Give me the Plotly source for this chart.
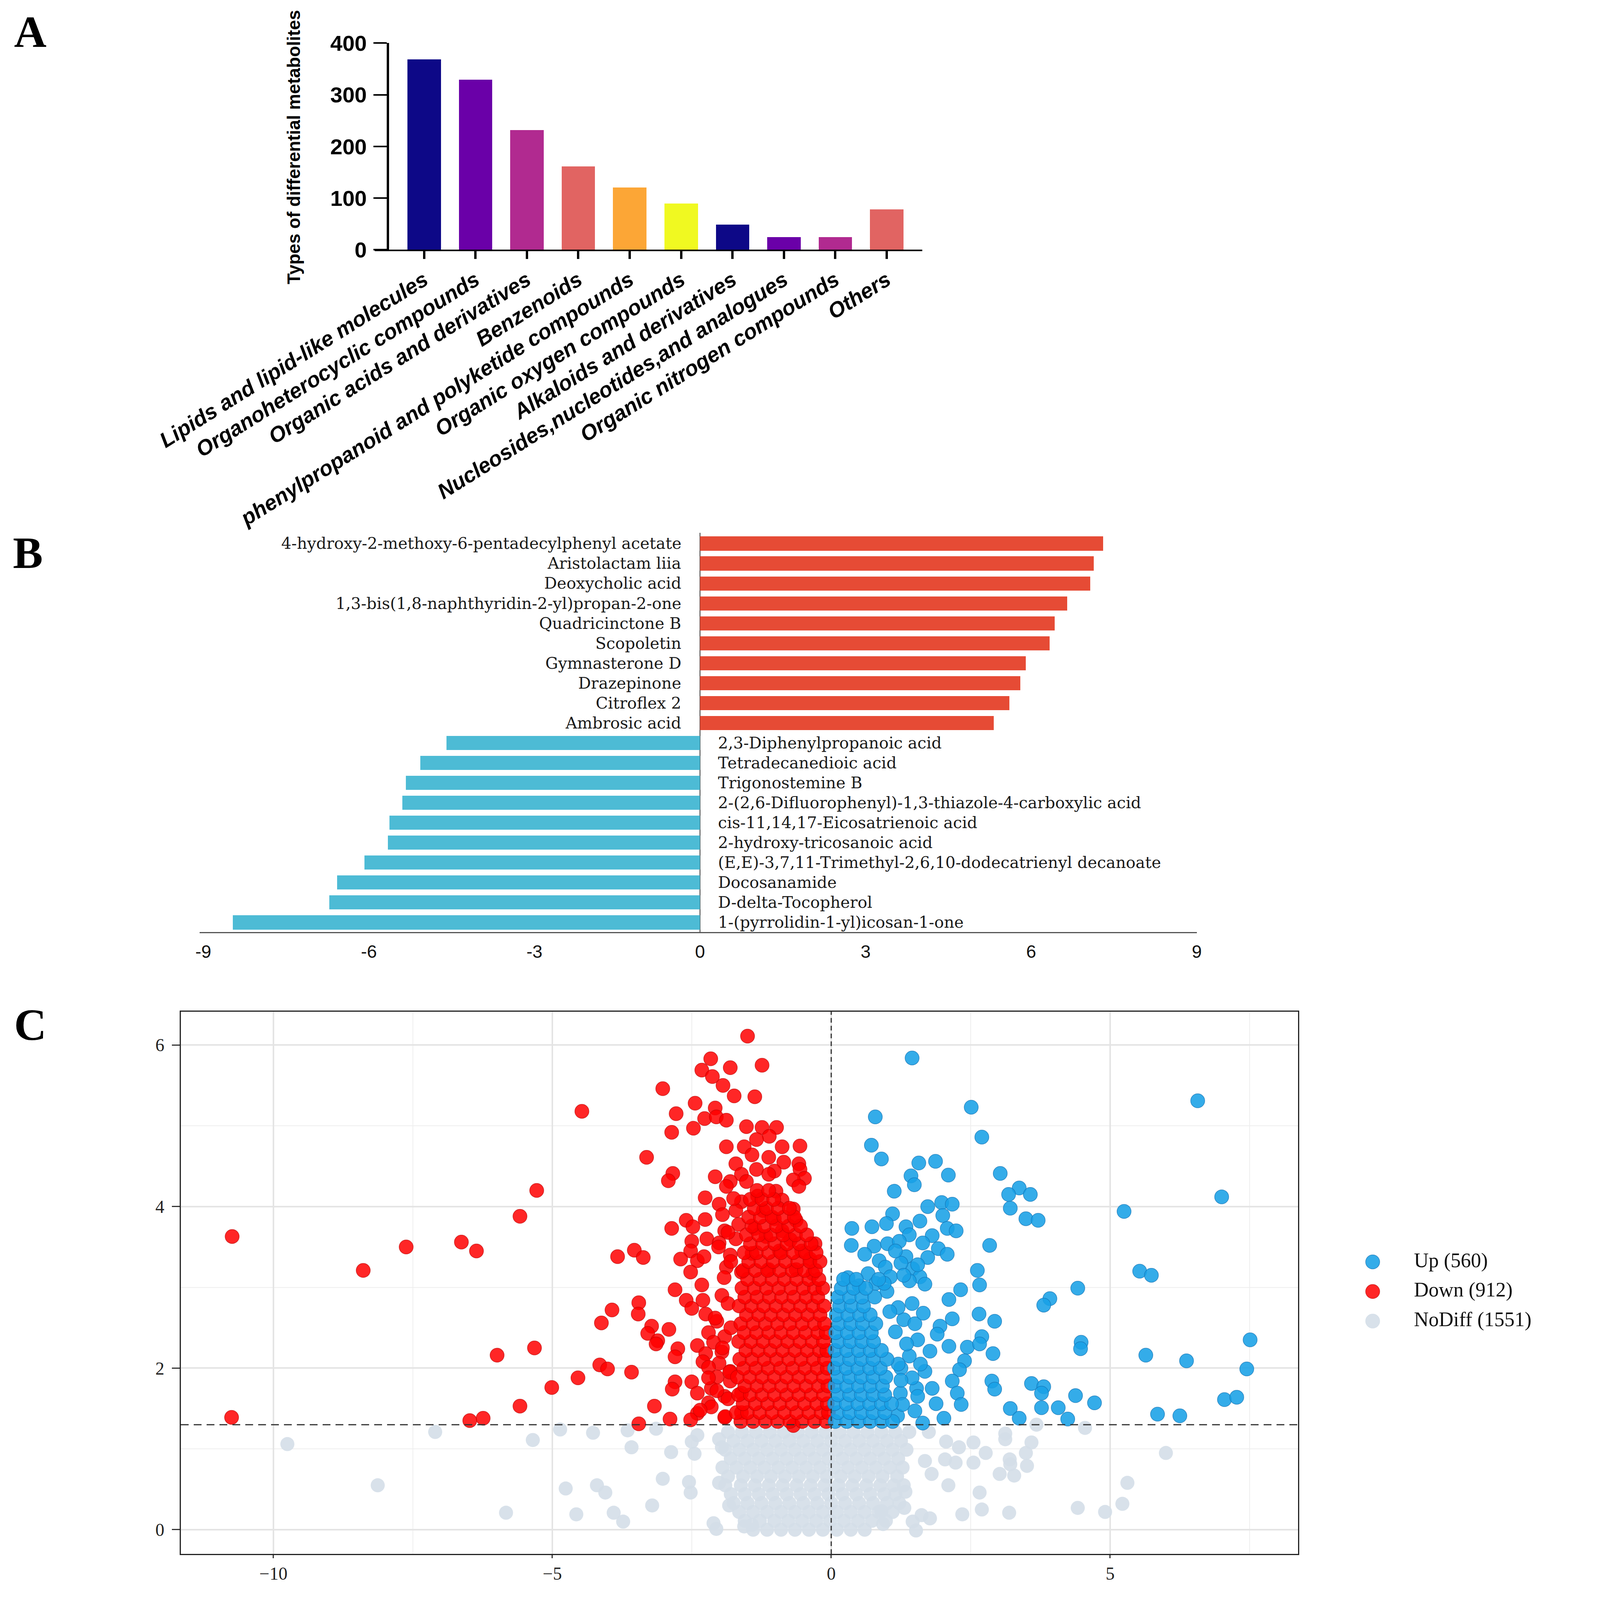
import plotly.graph_objects as go

# design frame of the reference figure (positions below are given in this frame)
W, H = 4278, 7316


def px(x):
    return x / W


def py(y):
    return 1 - y / H


# ---------------- panel A: classes of differential metabolites
class_names = ["Lipids and lipid-like molecules", "Organoheterocyclic compounds",
               "Organic acids and derivatives", "Benzenoids",
               "phenylpropanoid and polyketide compounds", "Organic oxygen compounds",
               "Alkaloids and derivatives", "Nucleosides,nucleotides,and analogues",
               "Organic nitrogen compounds", "Others"]
class_counts = [368, 329, 231, 161, 120, 89, 48, 24, 24, 78]
class_colors = ["#0D0887", "#6A00A8", "#B12A90", "#E16462", "#FCA636", "#F0F921",
                "#0D0887", "#6A00A8", "#B12A90", "#E16462"]

# ---------------- panel B: top up / down metabolites (log2FC)
up_names = ["4-hydroxy-2-methoxy-6-pentadecylphenyl acetate", "Aristolactam liia",
            "Deoxycholic acid", "1,3-bis(1,8-naphthyridin-2-yl)propan-2-one",
            "Quadricinctone B", "Scopoletin", "Gymnasterone D", "Drazepinone",
            "Citroflex 2", "Ambrosic acid"]
up_fc = [7.30, 7.13, 7.07, 6.65, 6.42, 6.33, 5.90, 5.80, 5.60, 5.32]
down_names = ["2,3-Diphenylpropanoic acid", "Tetradecanedioic acid", "Trigonostemine B",
              "2-(2,6-Difluorophenyl)-1,3-thiazole-4-carboxylic acid",
              "cis-11,14,17-Eicosatrienoic acid", "2-hydroxy-tricosanoic acid",
              "(E,E)-3,7,11-Trimethyl-2,6,10-dodecatrienyl decanoate", "Docosanamide",
              "D-delta-Tocopherol", "1-(pyrrolidin-1-yl)icosan-1-one"]
down_fc = [-4.60, -5.07, -5.33, -5.40, -5.63, -5.66, -6.08, -6.58, -6.72, -8.47]
b_ticks = [-9, -6, -3, 0, 3, 6, 9]

# ---------------- panel C: volcano plot (log2FC, -log10 p)
up_pts = [
    (1.45, 5.84), (6.57, 5.31), (2.51, 5.23), (0.79, 5.11), (2.70, 4.86), (0.72, 4.76),
    (0.90, 4.59), (1.57, 4.54), (1.87, 4.56), (1.43, 4.38), (2.10, 4.39), (1.49, 4.27),
    (3.03, 4.41), (1.13, 4.19), (3.37, 4.23), (3.18, 4.15), (3.57, 4.15), (7.00, 4.12),
    (1.73, 4.00), (1.98, 4.05), (2.17, 4.03), (3.21, 3.98), (5.25, 3.94), (1.10, 3.91),
    (2.00, 3.89), (3.49, 3.85), (3.71, 3.83), (0.37, 3.73), (0.73, 3.75), (0.99, 3.79),
    (1.59, 3.82), (1.34, 3.75), (2.08, 3.73), (2.24, 3.70), (1.40, 3.65), (1.81, 3.64),
    (2.84, 3.52), (0.36, 3.52), (0.77, 3.51), (1.01, 3.54), (1.22, 3.57), (1.64, 3.55),
    (1.92, 3.48), (0.60, 3.41), (0.86, 3.33), (1.34, 3.38), (1.73, 3.37), (2.08, 3.41),
    (0.97, 3.25), (1.46, 3.23), (2.62, 3.21), (5.53, 3.20), (5.74, 3.15), (0.30, 3.12),
    (0.66, 3.17), (1.06, 3.13), (1.59, 3.13), (1.68, 3.04), (2.32, 2.97), (2.66, 3.03),
    (4.42, 2.99), (3.92, 2.86), (1.25, 3.30), (1.40, 3.08), (1.15, 3.45), (1.55, 3.28),
    (0.50, 3.02), (0.80, 3.05), (1.30, 3.15),
    (3.81, 2.78), (2.11, 2.85), (2.65, 2.67), (2.93, 2.58), (2.17, 2.61), (1.95, 2.52),
    (2.70, 2.39), (1.90, 2.42), (7.51, 2.35), (4.48, 2.32), (4.47, 2.24), (2.44, 2.26),
    (2.66, 2.30), (2.11, 2.27), (1.77, 2.21), (2.90, 2.18), (5.64, 2.16), (6.37, 2.09),
    (2.39, 2.09), (7.45, 1.99), (2.30, 1.98), (1.68, 1.96), (2.17, 1.84), (2.88, 1.84),
    (3.59, 1.81), (3.81, 1.77), (2.93, 1.74), (3.77, 1.69), (1.81, 1.75), (2.26, 1.69),
    (1.53, 1.75), (1.24, 1.69), (4.38, 1.66), (4.72, 1.57), (7.05, 1.61), (7.27, 1.64),
    (1.88, 1.56), (2.33, 1.55), (1.55, 1.65), (3.21, 1.50), (3.77, 1.51), (4.07, 1.51),
    (1.50, 1.47), (5.85, 1.43), (6.25, 1.41), (2.02, 1.38), (3.37, 1.38), (4.24, 1.37),
    (1.64, 1.32), (1.19, 1.41), (1.28, 1.55), (1.45, 2.80), (1.30, 2.60), (1.55, 2.35),
    (1.40, 2.15), (1.25, 2.00), (1.60, 2.05), (1.45, 1.88), (1.35, 2.30), (1.50, 2.55),
    (1.20, 2.75), (1.65, 2.68), (1.20, 2.05), (1.15, 2.45), (1.25, 1.85), (1.05, 2.70),
    (1.00, 2.95), (0.95, 3.05),
]
up_dense = {
    1.34: [0.07, 0.28, 0.49, 0.70, 0.91, 1.10],
    1.45: [0.12, 0.33, 0.54, 0.75, 0.96],
    1.56: [0.06, 0.27, 0.48, 0.69, 0.90, 1.08],
    1.67: [0.12, 0.33, 0.54, 0.75, 0.96],
    1.78: [0.07, 0.28, 0.49, 0.70, 0.92],
    1.89: [0.12, 0.33, 0.54, 0.75, 0.98],
    2.00: [0.06, 0.27, 0.48, 0.69, 0.88],
    2.11: [0.12, 0.33, 0.54, 0.75, 1.00],
    2.22: [0.07, 0.28, 0.49, 0.70, 0.90],
    2.33: [0.13, 0.34, 0.55, 0.76],
    2.44: [0.08, 0.29, 0.50, 0.72],
    2.55: [0.14, 0.35, 0.56, 0.80],
    2.66: [0.09, 0.30, 0.51, 0.70],
    2.77: [0.15, 0.36, 0.58],
    2.88: [0.12, 0.33, 0.55, 0.78],
    2.99: [0.18, 0.40, 0.62],
    3.10: [0.22, 0.45, 0.85],
}

down_pts = [
    (-1.50, 6.11), (-2.16, 5.83), (-1.24, 5.75), (-2.32, 5.69), (-1.81, 5.72), (-2.13, 5.61),
    (-1.94, 5.50), (-3.02, 5.46), (-1.74, 5.37), (-1.37, 5.36), (-2.44, 5.28), (-4.47, 5.18),
    (-2.08, 5.22), (-2.78, 5.15), (-2.27, 5.09), (-2.06, 5.11), (-1.88, 5.07), (-1.52, 4.99),
    (-1.24, 4.98), (-0.98, 4.98), (-2.86, 4.92), (-2.47, 4.97), (-1.11, 4.87), (-1.34, 4.83),
    (-1.88, 4.74), (-1.56, 4.74), (-0.88, 4.74), (-0.56, 4.75), (-3.31, 4.61), (-1.42, 4.64),
    (-1.12, 4.61), (-1.71, 4.53), (-0.85, 4.55), (-0.58, 4.53), (-1.34, 4.46), (-1.02, 4.44),
    (-0.56, 4.46), (-2.84, 4.41), (-2.08, 4.37), (-1.61, 4.40), (-1.12, 4.40), (-2.92, 4.32),
    (-0.48, 4.35), (-0.68, 4.33), (-1.81, 4.31), (-1.52, 4.31), (-0.58, 4.25), (-5.28, 4.20),
    (-1.88, 4.25), (-0.99, 4.19), (-2.26, 4.11), (-2.01, 4.03), (-1.61, 4.06), (-1.32, 4.13),
    (-0.88, 4.08), (-1.71, 3.95), (-1.22, 3.95), (-0.68, 3.97), (-5.58, 3.88), (-2.60, 3.83),
    (-2.26, 3.84), (-1.02, 3.85), (-0.63, 3.83), (-2.86, 3.73), (-2.48, 3.75), (-1.66, 3.78),
    (-1.91, 3.70), (-1.37, 3.73), (-0.88, 3.70), (-10.74, 3.63), (-2.50, 3.57), (-2.23, 3.60),
    (-2.01, 3.55), (-1.71, 3.60), (-1.17, 3.63), (-0.73, 3.59), (-0.29, 3.54), (-6.63, 3.56),
    (-7.62, 3.50), (-6.36, 3.45), (-3.53, 3.46), (-3.83, 3.38), (-3.37, 3.37), (-2.52, 3.45),
    (-2.70, 3.35), (-2.40, 3.33), (-2.28, 3.38), (-1.81, 3.40), (-1.42, 3.42), (-0.93, 3.45),
    (-0.53, 3.45), (-0.38, 3.35), (-8.39, 3.21), (-2.52, 3.19), (-1.88, 3.25), (-1.61, 3.19),
    (-1.12, 3.22), (-0.63, 3.22), (-0.33, 3.17),
    (-2.32, 3.03), (-2.80, 2.97), (-1.96, 2.90), (-3.45, 2.81), (-2.60, 2.84), (-2.30, 2.84),
    (-3.93, 2.72), (-3.46, 2.67), (-2.50, 2.74), (-2.25, 2.67), (-2.05, 2.58), (-4.12, 2.56),
    (-3.22, 2.52), (-2.91, 2.48), (-3.29, 2.43), (-2.20, 2.44), (-1.91, 2.39), (-3.11, 2.34),
    (-3.14, 2.30), (-2.40, 2.28), (-2.11, 2.32), (-5.32, 2.25), (-2.75, 2.24), (-5.99, 2.16),
    (-2.80, 2.14), (-2.25, 2.18), (-1.96, 2.20), (-2.30, 2.08), (-2.01, 2.06), (-4.15, 2.04),
    (-4.01, 1.99), (-3.58, 1.95), (-2.20, 2.01), (-1.81, 1.96), (-4.54, 1.88), (-2.80, 1.83),
    (-2.50, 1.83), (-2.05, 1.89), (-1.81, 1.84), (-5.01, 1.76), (-2.85, 1.74), (-2.40, 1.69),
    (-2.15, 1.75), (-1.91, 1.65), (-2.20, 1.57), (-1.61, 1.69), (-5.58, 1.53), (-3.17, 1.53),
    (-2.40, 1.44), (-10.75, 1.39), (-6.24, 1.38), (-6.48, 1.35), (-2.89, 1.37), (-2.52, 1.36),
    (-1.91, 1.39), (-1.61, 1.45), (-3.45, 1.31), (-0.68, 1.29),
    (-1.90, 1.40), (-1.85, 1.62), (-2.05, 1.72), (-1.82, 1.95), (-1.95, 2.25), (-1.80, 2.50),
    (-2.08, 2.62), (-1.85, 2.80), (-1.92, 3.12), (-1.80, 3.32), (-2.02, 3.50), (-1.85, 3.68),
    (-1.95, 3.90), (-1.75, 4.10), (-2.15, 1.52), (-2.35, 1.48), (-2.20, 1.88),
]
down_dense = {
    1.34: [-1.62, -1.40, -1.18, -0.96, -0.74, -0.52, -0.30, -0.09],
    1.45: [-1.70, -1.50, -1.28, -1.06, -0.84, -0.62, -0.40, -0.18, -0.05],
    1.56: [-1.58, -1.36, -1.14, -0.92, -0.70, -0.48, -0.26, -0.07],
    1.67: [-1.66, -1.45, -1.24, -1.02, -0.80, -0.58, -0.36, -0.14],
    1.78: [-1.55, -1.33, -1.11, -0.89, -0.67, -0.45, -0.23, -0.06],
    1.89: [-1.68, -1.46, -1.24, -1.02, -0.80, -0.58, -0.36, -0.14],
    2.00: [-1.57, -1.35, -1.13, -0.91, -0.69, -0.47, -0.25, -0.07],
    2.11: [-1.64, -1.42, -1.20, -0.98, -0.76, -0.54, -0.32, -0.12],
    2.22: [-1.53, -1.31, -1.09, -0.87, -0.65, -0.43, -0.21, -0.08],
    2.33: [-1.66, -1.44, -1.22, -1.00, -0.78, -0.56, -0.34, -0.14],
    2.44: [-1.56, -1.34, -1.12, -0.90, -0.68, -0.46, -0.24, -0.09],
    2.55: [-1.62, -1.40, -1.18, -0.96, -0.74, -0.52, -0.30, -0.12],
    2.66: [-1.52, -1.30, -1.08, -0.86, -0.64, -0.42, -0.20],
    2.77: [-1.65, -1.43, -1.21, -0.99, -0.77, -0.55, -0.33, -0.13],
    2.88: [-1.55, -1.33, -1.11, -0.89, -0.67, -0.45, -0.24],
    2.99: [-1.60, -1.38, -1.16, -0.94, -0.72, -0.50, -0.30, -0.15],
    3.10: [-1.50, -1.28, -1.06, -0.84, -0.62, -0.40, -0.22],
    3.21: [-1.58, -1.36, -1.14, -0.92, -0.70, -0.48, -0.28],
    3.32: [-1.48, -1.26, -1.04, -0.82, -0.60, -0.38, -0.20],
    3.43: [-1.56, -1.34, -1.12, -0.90, -0.68, -0.46, -0.27],
    3.54: [-1.45, -1.23, -1.01, -0.79, -0.57, -0.36],
    3.65: [-1.52, -1.30, -1.08, -0.86, -0.64, -0.44],
    3.76: [-1.42, -1.20, -0.98, -0.76, -0.55],
    3.87: [-1.48, -1.27, -1.06, -0.85, -0.66],
    3.98: [-1.38, -1.16, -0.95, -0.75],
    4.09: [-1.45, -1.24, -1.03],
    4.20: [-1.33, -1.12],
}

nodiff_pts = [
    (-7.10, 1.21), (-9.75, 1.06), (-4.86, 1.24), (-4.27, 1.20), (-3.65, 1.23), (-3.14, 1.25),
    (-5.35, 1.11), (-3.58, 1.02), (-2.87, 0.96), (-2.45, 0.94), (-2.50, 1.09), (-2.40, 1.17),
    (-2.01, 1.12), (-1.96, 1.02), (-3.02, 0.63), (-2.55, 0.59), (-8.13, 0.55), (-4.76, 0.51),
    (-4.20, 0.55), (-4.05, 0.46), (-2.52, 0.46), (-2.01, 0.58), (-3.21, 0.30), (-1.83, 0.30),
    (-5.83, 0.21), (-4.57, 0.19), (-3.90, 0.21), (-3.73, 0.10), (-2.11, 0.08), (-2.06, 0.01),
    (-1.56, 0.04), (-1.42, 0.06),
    (1.75, 1.21), (3.12, 1.19), (3.12, 1.12), (3.59, 1.08), (2.55, 1.08), (2.06, 1.09),
    (2.29, 1.02), (2.77, 0.95), (3.49, 0.95), (6.00, 0.95), (1.68, 0.85), (2.04, 0.87),
    (2.23, 0.83), (2.55, 0.83), (3.20, 0.87), (3.21, 0.81), (3.51, 0.79), (1.80, 0.69),
    (3.02, 0.69), (3.28, 0.67), (5.31, 0.58), (2.10, 0.55), (2.66, 0.46), (1.33, 0.47),
    (5.22, 0.32), (4.42, 0.27), (4.91, 0.22), (2.70, 0.25), (3.19, 0.21), (2.35, 0.19),
    (1.31, 0.27), (1.62, 0.18), (1.77, 0.14), (1.46, 0.10), (1.52, -0.01), (0.93, 0.07),
    (0.90, 0.23), (3.68, 1.30), (4.55, 1.26),
]
nodiff_dense = {
    0.00: [-1.40, -1.15, -0.90, -0.65, -0.40, -0.15, 0.10, 0.35, 0.60],
    0.11: [-1.55, -1.28, -1.02, -0.77, -0.52, -0.27, -0.02, 0.23, 0.48, 0.73, 0.98],
    0.22: [-1.65, -1.40, -1.15, -0.90, -0.65, -0.40, -0.15, 0.10, 0.35, 0.60, 0.85, 1.10],
    0.33: [-1.75, -1.50, -1.25, -1.00, -0.75, -0.50, -0.25, 0.00, 0.25, 0.50, 0.75, 1.00, 1.22],
    0.44: [-1.80, -1.55, -1.30, -1.05, -0.80, -0.55, -0.30, -0.05, 0.20, 0.45, 0.70, 0.95, 1.15],
    0.55: [-1.90, -1.62, -1.37, -1.12, -0.87, -0.62, -0.37, -0.12, 0.13, 0.38, 0.63, 0.88, 1.12, 1.30],
    0.66: [-1.85, -1.58, -1.33, -1.08, -0.83, -0.58, -0.33, -0.08, 0.17, 0.42, 0.67, 0.92, 1.18],
    0.77: [-1.95, -1.70, -1.45, -1.20, -0.95, -0.70, -0.45, -0.20, 0.05, 0.30, 0.55, 0.80, 1.05, 1.28],
    0.88: [-1.80, -1.55, -1.30, -1.05, -0.80, -0.55, -0.30, -0.05, 0.20, 0.45, 0.70, 0.95, 1.20],
    0.99: [-1.90, -1.65, -1.40, -1.15, -0.90, -0.65, -0.40, -0.15, 0.10, 0.35, 0.60, 0.85, 1.10, 1.35],
    1.10: [-1.75, -1.50, -1.25, -1.00, -0.75, -0.50, -0.25, 0.00, 0.25, 0.50, 0.75, 1.00, 1.25],
    1.21: [-1.85, -1.60, -1.35, -1.10, -0.85, -0.60, -0.35, -0.10, 0.15, 0.40, 0.65, 0.90, 1.15, 1.40],
}

legend_labels = ["Up (560)", "Down (912)", "NoDiff (1551)"]
fc_cut = 0
p_cut = 1.3

UP_BAR, DOWN_BAR = "#E64B35", "#4DBBD5"
UP_FILL, UP_EDGE = "rgba(24,160,230,0.88)", "rgba(20,115,180,0.75)"
DOWN_FILL, DOWN_EDGE = "rgba(255,0,0,0.85)", "rgba(190,0,0,0.7)"
NO_FILL = "rgba(212,222,232,0.9)"
SERIF = "Liberation Serif"
SANS = "Liberation Sans"
DOT = 36


def unpack(points, dense):
    xs = [p[0] for p in points]
    ys = [p[1] for p in points]
    for y, row in dense.items():
        xs += row
        ys += [y] * len(row)
    return xs, ys


fig = go.Figure()

# ---- A
fig.add_trace(go.Bar(x=class_names, y=class_counts, width=0.65,
                     marker=dict(color=class_colors, line=dict(width=0)),
                     xaxis="x", yaxis="y", showlegend=False))

# ---- B
b_names = up_names + down_names
b_vals = up_fc + down_fc
b_pos = list(range(len(b_names)))
b_cols = [UP_BAR] * len(up_fc) + [DOWN_BAR] * len(down_fc)
fig.add_trace(go.Bar(x=b_vals, y=b_pos, orientation="h", width=0.71,
                     marker=dict(color=b_cols, line=dict(width=0)),
                     xaxis="x2", yaxis="y2", showlegend=False))
for name, val, pos in zip(b_names, b_vals, b_pos):
    fig.add_annotation(x=0, y=pos, xref="x2", yref="y2", text=name, showarrow=False,
                       xanchor="right" if val > 0 else "left", yanchor="middle",
                       xshift=-46 if val > 0 else 44,
                       font=dict(family="DejaVu Serif", size=41, color="#1a1a1a"))

# ---- C
nx, ny = unpack(nodiff_pts, nodiff_dense)
dx, dy = unpack(down_pts, down_dense)
ux, uy = unpack(up_pts, up_dense)
fig.add_trace(go.Scatter(x=nx, y=ny, mode="markers", xaxis="x3", yaxis="y3", showlegend=False,
                         marker=dict(size=DOT, color=NO_FILL, line=dict(width=0))))
fig.add_trace(go.Scatter(x=dx, y=dy, mode="markers", xaxis="x3", yaxis="y3", showlegend=False,
                         marker=dict(size=DOT, color=DOWN_FILL, line=dict(width=1.5, color=DOWN_EDGE))))
fig.add_trace(go.Scatter(x=ux, y=uy, mode="markers", xaxis="x3", yaxis="y3", showlegend=False,
                         marker=dict(size=DOT, color=UP_FILL, line=dict(width=1.5, color=UP_EDGE))))

fig.add_shape(type="line", xref="x3", yref="y3 domain", x0=fc_cut, x1=fc_cut, y0=0, y1=1,
              line=dict(color="#333333", width=3, dash="12px,8px"), layer="above")
fig.add_shape(type="line", xref="x3 domain", yref="y3", x0=0, x1=1, y0=p_cut, y1=p_cut,
              line=dict(color="#333333", width=3, dash="20px,13px"), layer="above")

# ---- C legend, drawn on its own small axis
leg_pos = list(range(len(legend_labels)))
fig.add_trace(go.Scatter(x=[0] * 3, y=leg_pos, mode="markers", xaxis="x4", yaxis="y4",
                         showlegend=False,
                         marker=dict(size=DOT, color=[UP_FILL, DOWN_FILL, NO_FILL],
                                     line=dict(width=1.5, color=[UP_EDGE, DOWN_EDGE, NO_FILL]))))
fig.add_trace(go.Scatter(x=[0.92] * 3, y=leg_pos, mode="text", text=legend_labels,
                         textposition="middle right", xaxis="x4", yaxis="y4", showlegend=False,
                         textfont=dict(family=SERIF, size=52, color="#111111")))

# ---- panel letters and titles
for letter, lx, ly, ya in [("A", 73, 14, "top"), ("B", 67, 2541, "middle"),
                           ("C", 73, 4722, "middle")]:
    fig.add_annotation(x=px(lx), y=py(ly), xref="paper", yref="paper", text=letter,
                       showarrow=False, xanchor="center", yanchor=ya,
                       font=dict(family=SERIF, size=115, color="black", weight="bold"))
fig.add_annotation(x=px(780), y=py(666), xref="paper", yref="paper",
                   text="Types of differential metabolites", textangle=-90, showarrow=False,
                   xanchor="center", yanchor="middle",
                   font=dict(family=SANS, size=46, color="black", weight="bold"))

c_axis = dict(showline=True, mirror=True, linecolor="#222222", linewidth=3,
              ticks="outside", tickwidth=3, tickcolor="#333333", automargin=False,
              showgrid=True, gridcolor="#E4E4E4", gridwidth=4, zeroline=False,
              tickfont=dict(family=SERIF, size=46, color="#222222"))

fig.update_layout(
    autosize=True, margin=dict(l=0, r=0, t=0, b=0),
    paper_bgcolor="white", plot_bgcolor="white", showlegend=False, bargap=0,
    xaxis=dict(domain=[px(997), px(2467)], range=[-0.964, 9.69], type="category",
               anchor="y", automargin=False, showline=True, linecolor="black", linewidth=4,
               ticks="outside", ticklen=20, tickwidth=6, tickcolor="black", tickangle=-32,
               showgrid=False, zeroline=False,
               tickfont=dict(family=SANS, size=55, color="black", weight="bold", style="italic")),
    yaxis=dict(domain=[py(1140), py(185)], range=[0, 400], dtick=100, anchor="free",
               position=px(1033), automargin=False, showline=True, linecolor="black",
               linewidth=6, ticks="outside", ticklen=34, tickwidth=4, tickcolor="black",
               showgrid=False, zeroline=False, ticklabelstandoff=6,
               tickfont=dict(family=SANS, size=56, color="black", weight="bold")),
    xaxis2=dict(domain=[px(527), px(3204)], range=[-9.07, 9.0], anchor="y2",
                automargin=False, tickvals=b_ticks, ticktext=[str(t) for t in b_ticks],
                showline=True, linecolor="#555555", linewidth=3, ticks="",
                showgrid=False, zeroline=True, zerolinecolor="#333333", zerolinewidth=2,
                ticklabelstandoff=8,
                tickfont=dict(family="Liberation Sans Narrow, Liberation Sans", size=46,
                              color="#111111")),
    yaxis2=dict(domain=[py(4294), py(2448)], range=[19.49, -0.54], anchor="x2",
                automargin=False, visible=False),
    xaxis3=dict(domain=[px(477), px(3476)], range=[-11.66, 8.37], anchor="y3",
                tick0=0, dtick=5, ticklen=8,
                minor=dict(dtick=2.5, showgrid=True, gridcolor="#EEEEEE", gridwidth=2),
                **c_axis),
    yaxis3=dict(domain=[py(7168), py(4661)], range=[-0.30, 6.415], anchor="x3",
                tick0=0, dtick=2, ticklen=20, ticklabelstandoff=10,
                minor=dict(dtick=1, showgrid=True, gridcolor="#EEEEEE", gridwidth=2),
                **c_axis),
    xaxis4=dict(domain=[px(3616), 1.0], range=[-0.5, 5], anchor="y4",
                automargin=False, visible=False),
    yaxis4=dict(domain=[py(6160), py(5750)], range=[2.5, -0.5], anchor="x4",
                automargin=False, visible=False),
)

# the figure follows the size of the window it is opened in
fig.write_html("out.html", default_width="100%", default_height="calc(100vh - 44px)",
               config={"responsive": True})
